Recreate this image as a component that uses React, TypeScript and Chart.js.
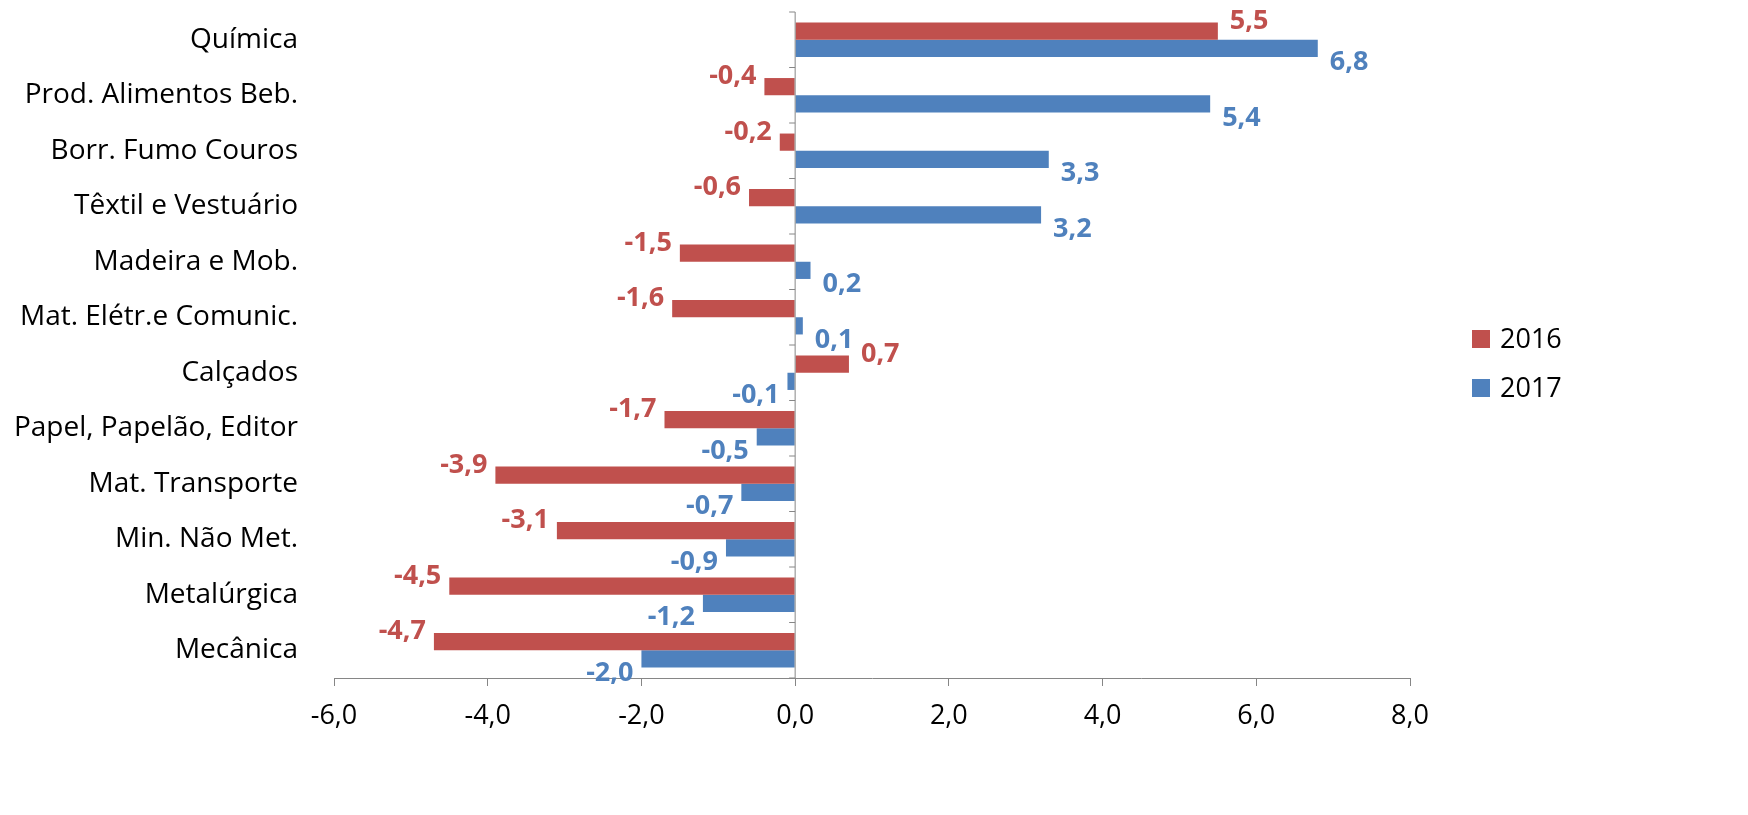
import Chart from 'chart.js/auto';
import { useEffect, useRef } from 'react';

const categories = [
	'Química',
	'Prod. Alimentos Beb.',
	'Borr. Fumo Couros',
	'Têxtil e Vestuário',
	'Madeira e Mob.',
	'Mat. Elétr.e Comunic.',
	'Calçados',
	'Papel, Papelão, Editor',
	'Mat. Transporte',
	'Min. Não Met.',
	'Metalúrgica',
	'Mecânica',
];
const values2016 = [5.5, -0.4, -0.2, -0.6, -1.5, -1.6, 0.7, -1.7, -3.9, -3.1, -4.5, -4.7];
const values2017 = [6.8, 5.4, 3.3, 3.2, 0.2, 0.1, -0.1, -0.5, -0.7, -0.9, -1.2, -2.0];

const RED = '#C0504D';
const BLUE = '#4F81BD';
const FONT = "'Open Sans', 'Liberation Sans', sans-serif";

const fmt = (v: number) => v.toFixed(1).replace('.', ',');

const extras = {
	id: 'extras',
	afterDatasetsDraw(chart: any) {
		const { ctx, chartArea, scales } = chart;
		const x0 = scales.x.getPixelForValue(0);
		ctx.save();
		// zero axis line with category ticks
		ctx.strokeStyle = '#868686';
		ctx.lineWidth = 1;
		ctx.beginPath();
		ctx.moveTo(x0, chartArea.top);
		ctx.lineTo(x0, chartArea.bottom);
		const step = (chartArea.bottom - chartArea.top) / categories.length;
		for (let i = 0; i <= categories.length; i++) {
			const y = chartArea.top + i * step;
			ctx.moveTo(x0 - 6, y);
			ctx.lineTo(x0, y);
		}
		ctx.stroke();
		// data labels
		ctx.font = `bold 27px ${FONT}`;
		ctx.textBaseline = 'middle';
		chart.data.datasets.forEach((ds: any, di: number) => {
			const meta = chart.getDatasetMeta(di);
			meta.data.forEach((bar: any, i: number) => {
				const v = ds.data[i];
				ctx.fillStyle = ds.backgroundColor;
				const dy = di === 0 ? -10 : 14;
				if (v >= 0) {
					ctx.textAlign = 'left';
					ctx.fillText(fmt(v), bar.x + 12, bar.y + dy);
				} else {
					ctx.textAlign = 'right';
					ctx.fillText(fmt(v), bar.x - 8, bar.y + dy);
				}
			});
		});
		// legend
		ctx.font = `27px ${FONT}`;
		ctx.textAlign = 'left';
		[
			['2016', RED, 339],
			['2017', BLUE, 388],
		].forEach(([label, color, y]: any) => {
			ctx.fillStyle = color;
			ctx.fillRect(1472, y - 9, 18, 18);
			ctx.fillStyle = '#000';
			ctx.fillText(label, 1500, y + 1);
		});
		ctx.restore();
	},
};

export default function App() {
	const chartRef = useRef<HTMLCanvasElement | null>(null);

	useEffect(() => {
		document.body.style.margin = '0';
		if (!chartRef.current) return;
		const chart = new Chart(chartRef.current, {
			type: 'bar',
			data: {
				labels: categories,
				datasets: [
					{ label: '2016', data: values2016, backgroundColor: RED, categoryPercentage: 0.62, barPercentage: 1 },
					{ label: '2017', data: values2017, backgroundColor: BLUE, categoryPercentage: 0.62, barPercentage: 1 },
				],
			},
			options: {
				indexAxis: 'y',
				responsive: false,
				animation: false,
				layout: { padding: { top: 12, right: 338, left: 0, bottom: 0 } },
				plugins: { legend: { display: false }, tooltip: { enabled: false } },
				scales: {
					x: {
						min: -6,
						max: 8,
						ticks: {
							stepSize: 2,
							color: '#000',
							font: { family: FONT, size: 27 },
							callback: (v: any) => fmt(Number(v)),
							padding: 14,
						},
						grid: { drawOnChartArea: false, tickLength: 8, color: '#868686' },
						border: { color: '#868686' },
						afterFit: (s: any) => {
							s.height = 137;
							s.paddingLeft = 0;
							s.paddingRight = 0;
						},
					},
					y: {
						ticks: { color: '#000', font: { family: FONT, size: 28 }, padding: 28 },
						grid: { display: false },
						border: { display: false },
						afterFit: (s: any) => {
							s.width = 334;
							s.paddingTop = 0;
							s.paddingBottom = 0;
						},
					},
				},
			},
			plugins: [extras],
		});
		return () => chart.destroy();
	}, []);

	return (
		<div style={{ width: 1748, height: 815, background: '#fff' }}>
			<canvas ref={chartRef} width={1748} height={815}></canvas>
		</div>
	);
}
